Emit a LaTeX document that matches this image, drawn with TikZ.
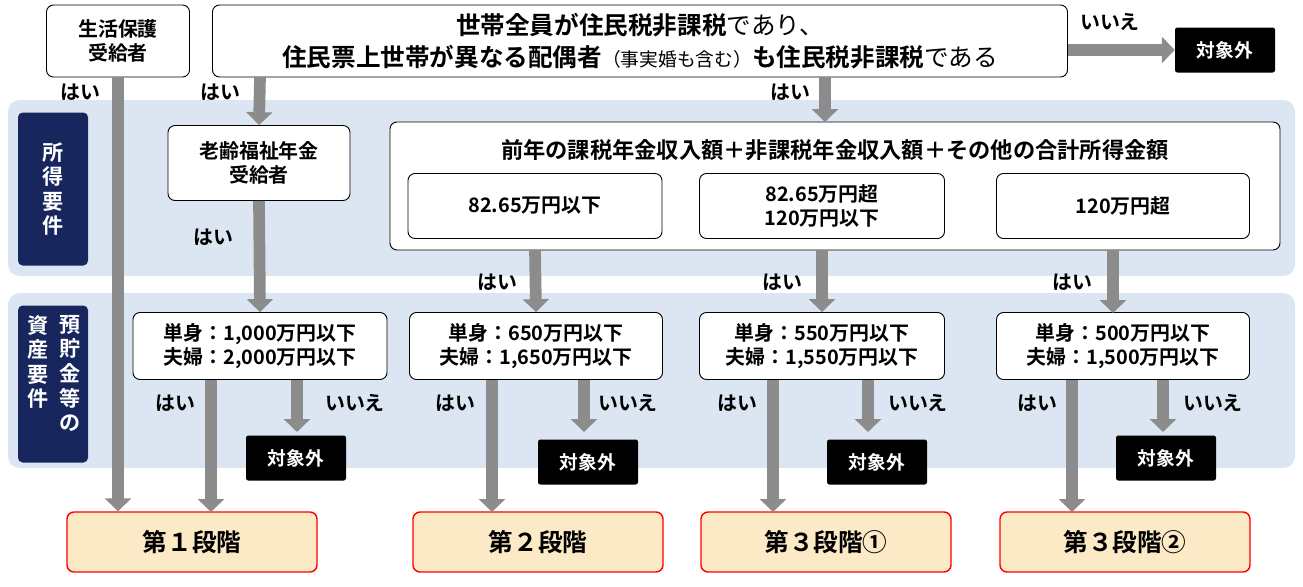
\documentclass[tikz,border=0pt]{standalone}
\usepackage{fontspec}
\setmainfont{Noto Sans CJK JP}[BoldFont=* Bold]
\usetikzlibrary{arrows.meta}
\newcommand\px[1]{#1*0.03cm}
\definecolor{band}{HTML}{DCE6F2}
\definecolor{navy}{HTML}{17275E}
\definecolor{res}{HTML}{FCE9C6}
\tikzset{
  box/.style={draw, rounded corners=6pt, line width=0.8pt, fill=white, align=center, font=\bfseries\fontsize{17}{21}\selectfont},
  nobox/.style={fill=black, text=white, rounded corners=2pt, minimum width={\px{100}}, minimum height={\px{45}}, font=\bfseries\fontsize{16}{18}\selectfont},
  resbox/.style={draw=red, fill=res, line width=1.2pt, rounded corners=6pt, minimum width={\px{250}}, minimum height={\px{60}}, font=\bfseries\fontsize{21}{24}\selectfont},
  lbl/.style={font=\bfseries\fontsize{17}{20}\selectfont},
  arr/.style={draw=gray!90, line width=10pt, -{Triangle[width=22pt,length=11pt]}},
  side/.style={fill=navy, text=white, rounded corners=4pt, align=center, font=\bfseries\fontsize{18}{21}\selectfont}
}
\begin{document}
\begin{tikzpicture}[x=0.03cm, y=-0.03cm]
    \useasboundingbox (0,0) rectangle (1303,587);
    % bands
    \fill[band, rounded corners=10pt] (8,100) rectangle (1295,276);
    \fill[band, rounded corners=10pt] (8,293) rectangle (1295,468);
    \node[side, minimum width={\px{70}}, minimum height={\px{153}}] (shotoku) at (53,189) {所\\得\\要\\件};
    \node[side, minimum width={\px{70}}, minimum height={\px{157}}] (shisan) at (53,384) {};
    \node[side, anchor=north] at (70,311) {預\\貯\\金\\等\\の};
    \node[side, anchor=north] at (38,311) {資\\産\\要\\件};

    % top row
    \node[box, minimum width={\px{143}}, minimum height={\px{72}}] (hogo) at (118,41) {生活保護\\受給者};
    \node[box, minimum width={\px{855}}, minimum height={\px{72}}, font=\fontsize{21}{27}\selectfont] (top) at (640,41)
      {\textbf{世帯全員が住民税非課税}であり、\\\textbf{住民票上世帯が異なる配偶者}{\fontsize{16}{19}\selectfont（事実婚も含む）}\textbf{も住民税非課税}である};
    \node[nobox] (out0) at (1225,50) {対象外};
    \node[lbl] at (1110,22) {いいえ};
    \draw[arr] (top.east |- out0) -- (out0.west);
    \node[lbl] at (80,92) {はい};
    \node[lbl] at (220,92) {はい};
    \node[lbl] at (790,92) {はい};

    % income
    \node[box, minimum width={\px{182}}, minimum height={\px{75}}] (rourei) at (259,163) {老齢福祉年金\\受給者};
    \draw[box, fill=white] (390,122) rectangle (1280,250);
    \node[lbl, font=\bfseries\fontsize{19}{22}\selectfont] (sum) at (835,150) {前年の課税年金収入額＋非課税年金収入額＋その他の合計所得金額};
    \node[box, minimum width={\px{254}}, minimum height={\px{65}}] (inc1) at (535,206) {82.65万円以下};
    \node[box, minimum width={\px{245}}, minimum height={\px{65}}] (inc2) at (822,206) {82.65万円超\\120万円以下};
    \node[box, minimum width={\px{253}}, minimum height={\px{65}}] (inc3) at (1123,206) {120万円超};
    \draw[arr] (260,77) -- (rourei.north);
    \draw[arr] (825,77) -- (825,122);

    % assets
    \node[box, minimum width={\px{254}}, minimum height={\px{67}}] (as1) at (260,346) {単身：1,000万円以下\\夫婦：2,000万円以下};
    \node[box, minimum width={\px{253}}, minimum height={\px{67}}] (as2) at (536,346) {単身：650万円以下\\夫婦：1,650万円以下};
    \node[box, minimum width={\px{245}}, minimum height={\px{67}}] (as3) at (822,346) {単身：550万円以下\\夫婦：1,550万円以下};
    \node[box, minimum width={\px{253}}, minimum height={\px{67}}] (as4) at (1123,346) {単身：500万円以下\\夫婦：1,500万円以下};
    \draw[arr] (rourei.south) -- (as1.north);
    \node[lbl] at (213,237) {はい};
    \draw[arr] (inc1.south |- 0,250) -- (as2.north);
    \draw[arr] (inc2.south |- 0,250) -- (as3.north);
    \draw[arr] (1113,250) -- (1113,313);
    \node[lbl] at (497,282) {はい};
    \node[lbl] at (782,282) {はい};
    \node[lbl] at (1072,282) {はい};

    % not eligible
    \node[nobox] (out1) at (296,458) {対象外};
    \node[nobox] (out2) at (588,462) {対象外};
    \node[nobox] (out3) at (877,462) {対象外};
    \node[nobox] (out4) at (1166,458) {対象外};
    \draw[arr] (297,380) -- (297,432);
    \draw[arr] (584,380) -- (584,432);
    \draw[arr] (868,380) -- (868,432);
    \draw[arr] (1163,380) -- (1163,432);
    \node[lbl] at (355,403) {いいえ};
    \node[lbl] at (628,403) {いいえ};
    \node[lbl] at (918,403) {いいえ};
    \node[lbl] at (1213,403) {いいえ};
    \node[lbl] at (175,403) {はい};
    \node[lbl] at (455,403) {はい};
    \node[lbl] at (737,403) {はい};
    \node[lbl] at (1037,403) {はい};

    % results
    \node[resbox] (r1) at (192,542) {第１段階};
    \node[resbox] (r2) at (538,542) {第２段階};
    \node[resbox] (r3) at (826,542) {第３段階①};
    \node[resbox] (r4) at (1125,542) {第３段階②};
    \draw[arr] (hogo.south) -- (hogo.south |- r1.north);
    \draw[arr] (211,380) -- (211,512);
    \draw[arr] (492,380) -- (492,512);
    \draw[arr] (773,380) -- (773,512);
    \draw[arr] (1072,380) -- (1072,512);
\end{tikzpicture}
\end{document}
